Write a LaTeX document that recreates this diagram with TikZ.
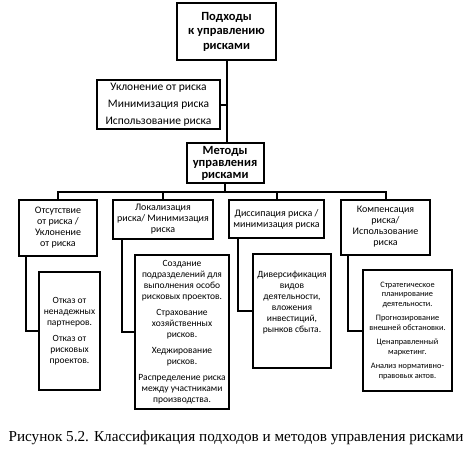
\documentclass[tikz,border=0pt]{standalone}
\usepackage{fontspec}
\setmainfont{Carlito}
\newfontfamily\capfont{Liberation Serif}
\usepackage{tikz}

\begin{document}
\begin{tikzpicture}[x=1pt,y=-1pt,
    box/.style={draw, line width=2pt, inner sep=0pt, align=center},
    link/.style={line width=2pt},
    head/.style={font=\bfseries\fontsize{12.5}{14.5}\selectfont},
    group/.style={font=\fontsize{10}{11}\selectfont},
    body/.style={font=\fontsize{9.5}{11}\selectfont},
    small/.style={font=\fontsize{8.3}{9.5}\selectfont}]
    \useasboundingbox (0,0) rectangle (469,456);

    % Approaches
    \node[box, head, minimum width=99pt, minimum height=57pt] (podkhody) at (226.5,31.5)
        {Подходы\\к управлению\\рисками};
    \node[box, font=\fontsize{11.5}{17}\selectfont, minimum width=123pt, minimum height=49pt]
        (uklon) at (158.5,104.5)
        {Уклонение от риска\\Минимизация риска\\Использование риска};

    % Methods
    \node[box, font=\bfseries\fontsize{12.5}{12}\selectfont,
        minimum width=77pt, minimum height=40pt] (metody) at (225,163)
        {Методы\\управления\\рисками};
    \coordinate (bus) at (225,192);

    % Method groups
    \node[box, group, minimum width=78pt, minimum height=56pt] (otsut) at (58,228)
        {Отсутствие\\от риска /\\Уклонение\\от риска};
    \node[box, group, minimum width=100pt, minimum height=39pt] (lokal) at (163,219.5)
        {Локализация\\риска/ Минимизация\\риска};
    \node[box, group, minimum width=95pt, minimum height=38pt] (dissip) at (276.5,219)
        {Диссипация риска /\\минимизация риска};
    \node[box, group, minimum width=89pt, minimum height=55pt] (komp) at (385.5,227)
        {Компенсация\\риска/\\Использование\\риска};

    % Measures
    \node[box, body, minimum width=61pt, minimum height=118pt] (otkaz) at (69.5,331)
        {Отказ от\\ненадежных\\партнеров.\\[5pt]Отказ от\\рисковых\\проектов.};
    \node[box, body, minimum width=94pt, minimum height=154pt] (sozd) at (182,332)
        {Создание\\подразделений для\\выполнения особо\\рисковых проектов.\\[5pt]%
         Страхование\\хозяйственных\\рисков.\\[5pt]Хеджирование\\рисков.\\[5pt]%
         Распределение риска\\между участниками\\производства.};
    \node[box, body, minimum width=78pt, minimum height=114pt] (divers) at (292,311)
        {Диверсификация\\видов\\деятельности,\\вложения\\инвестиций,\\рынков сбыта.\\[8pt]};
    \node[box, small, minimum width=89pt, minimum height=121pt] (strat) at (407.5,330.5)
        {Стратегическое\\планирование\\деятельности.\\[5pt]Прогнозирование\\внешней обстановки.\\[5pt]%
         Ценаправленный\\маркетинг.\\[5pt]Анализ нормативно-\\правовых актов.};

    % Links
    \draw[link] (podkhody.south) -- (podkhody.south |- metody.north);
    \draw[link] (uklon.east) -- (uklon.east -| podkhody.south);
    \draw[link] (metody.south) -- (bus);
    \draw[link] (otsut.north) |- (bus) -| (komp.north);
    \draw[link] (lokal.north) -- (lokal.north |- bus);
    \draw[link] (dissip.north) -- (dissip.north |- bus);
    \draw[link] ([xshift=8pt]otsut.south west) |- (otkaz.west);
    \draw[link] ([xshift=10pt]lokal.south west) |- (sozd.west);
    \draw[link] ([xshift=10pt]dissip.south west) |- (divers.west);
    \draw[link] ([xshift=8pt]komp.south west) |- (strat.west);

    % Caption
    \node[font=\capfont\fontsize{15.2}{18}\selectfont] (caption) at (236,438)
        {Рисунок 5.2. Классификация подходов и методов управления рисками};
\end{tikzpicture}
\end{document}
